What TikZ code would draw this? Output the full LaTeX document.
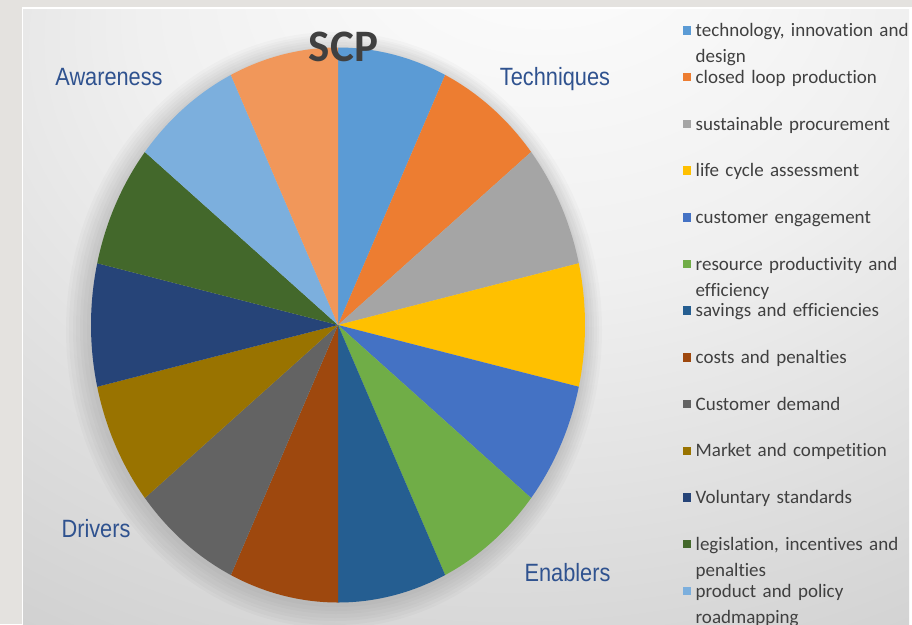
\documentclass[tikz,border=0pt]{standalone}
\usepackage{fontspec}
\setmainfont{Carlito}[Ligatures=CommonOff]
\newfontfamily\catfont[FakeStretch=0.87]{Liberation Sans}
\usepackage{tikz}
\usetikzlibrary{positioning,calc}
\usepackage{xcolor}
\definecolor{scpframe}{RGB}{228,226,223}
\definecolor{scptext}{RGB}{64,64,64}
\definecolor{scpcat}{RGB}{47,82,143}
\definecolor{scpA}{HTML}{5B9BD5}
\definecolor{scpB}{HTML}{ED7D31}
\definecolor{scpC}{HTML}{A5A5A5}
\definecolor{scpD}{HTML}{FFC000}
\definecolor{scpE}{HTML}{4472C4}
\definecolor{scpF}{HTML}{70AD47}
\definecolor{scpG}{HTML}{255E91}
\definecolor{scpH}{HTML}{9E480E}
\definecolor{scpI}{HTML}{636363}
\definecolor{scpJ}{HTML}{997300}
\definecolor{scpK}{HTML}{264478}
\definecolor{scpL}{HTML}{43682B}
\definecolor{scpM}{HTML}{7CAFDD}
\definecolor{scpN}{HTML}{F1975A}
\pgfdeclareradialshading{panelshade}{\pgfpoint{5bp}{35bp}}{color(0bp)=(white); color(22bp)=(black!6); color(55bp)=(black!22); color(75bp)=(black!24)}
\tikzstyle{legkey} = [rectangle, minimum size=8.5pt, inner sep=0pt]
\tikzstyle{legtext} = [anchor=base west, inner sep=0pt, text width=230pt, align=left, font=\fontsize{19}{26}\selectfont, text=scptext]
\tikzstyle{category} = [anchor=base, inner sep=0pt, font=\catfont\fontsize{25}{30}\selectfont, text=scpcat]
\tikzstyle{pieshadow} = [black, opacity=0.018]
% one slice of the squeezed pie: colour, start angle, end angle
\newcommand{\pieslice}[3]{\fill[#1] (ctr) -- ++(#2:247 and 277.5) arc[start angle=#2, end angle=#3, x radius=247, y radius=277.5] -- cycle;}

\begin{document}
\begin{tikzpicture}[x=1pt, y=-1pt, node distance=46.7pt]
\useasboundingbox (0,0) rectangle (912,624);
% Slide background
\fill[scpframe] (0,0) rectangle (912,624);
\fill[white] (21.5,6.5) rectangle (912,624);
\shade[shading=panelshade] (23,9.5) rectangle (909,624);

% Pie (soft shadow first)
\coordinate (ctr) at (338,325);
\fill[pieshadow] ($(ctr)+(-4,5)$) ellipse [x radius=268, y radius=298];
\fill[pieshadow] ($(ctr)+(-4,5)$) ellipse [x radius=265, y radius=295];
\fill[pieshadow] ($(ctr)+(-3,4)$) ellipse [x radius=262, y radius=292];
\fill[pieshadow] ($(ctr)+(-3,4)$) ellipse [x radius=259, y radius=289];
\fill[pieshadow] ($(ctr)+(-2,3)$) ellipse [x radius=256, y radius=286];
\fill[pieshadow] ($(ctr)+(-2,3)$) ellipse [x radius=253, y radius=283];
\fill[pieshadow] ($(ctr)+(-1,2)$) ellipse [x radius=250, y radius=280];
\pieslice{scpA}{-90}{-64.29}
\pieslice{scpB}{-64.29}{-38.57}
\pieslice{scpC}{-38.57}{-12.86}
\pieslice{scpD}{-12.86}{12.86}
\pieslice{scpE}{12.86}{38.57}
\pieslice{scpF}{38.57}{64.29}
\pieslice{scpG}{64.29}{90}
\pieslice{scpH}{90}{115.71}
\pieslice{scpI}{115.71}{141.43}
\pieslice{scpJ}{141.43}{167.14}
\pieslice{scpK}{167.14}{192.86}
\pieslice{scpL}{192.86}{218.57}
\pieslice{scpM}{218.57}{244.29}
\pieslice{scpN}{244.29}{270}

\node (title) [anchor=base, inner sep=0pt, font=\bfseries\fontsize{45}{50}\selectfont, text=scptext] at (343.5,61) {SCP};
\node (aware) [category] at (109,85) {Awareness};
\node (tech) [category] at (555,85) {Techniques};
\node (drive) [category] at (96,537) {Drivers};
\node (enable) [category] at (567.5,581) {Enablers};

% Legend
\node (key1) [legkey, fill=scpA] at (687,30.5) {};
\node (key2) [legkey, fill=scpB, below of=key1] {};
\node (key3) [legkey, fill=scpC, below of=key2] {};
\node (key4) [legkey, fill=scpD, below of=key3] {};
\node (key5) [legkey, fill=scpE, below of=key4] {};
\node (key6) [legkey, fill=scpF, below of=key5] {};
\node (key7) [legkey, fill=scpG, below of=key6] {};
\node (key8) [legkey, fill=scpH, below of=key7] {};
\node (key9) [legkey, fill=scpI, below of=key8] {};
\node (key10) [legkey, fill=scpJ, below of=key9] {};
\node (key11) [legkey, fill=scpK, below of=key10] {};
\node (key12) [legkey, fill=scpL, below of=key11] {};
\node (key13) [legkey, fill=scpM, below of=key12] {};

\node (leg1) [legtext] at ([xshift=4pt, yshift=-1.7pt]key1.south east) {technology, innovation and\\design};
\node (leg2) [legtext] at ([xshift=4pt, yshift=-1.7pt]key2.south east) {closed loop production};
\node (leg3) [legtext] at ([xshift=4pt, yshift=-1.7pt]key3.south east) {sustainable procurement};
\node (leg4) [legtext] at ([xshift=4pt, yshift=-1.7pt]key4.south east) {life cycle assessment};
\node (leg5) [legtext] at ([xshift=4pt, yshift=-1.7pt]key5.south east) {customer engagement};
\node (leg6) [legtext] at ([xshift=4pt, yshift=-1.7pt]key6.south east) {resource productivity and\\efficiency};
\node (leg7) [legtext] at ([xshift=4pt, yshift=-1.7pt]key7.south east) {savings and efficiencies};
\node (leg8) [legtext] at ([xshift=4pt, yshift=-1.7pt]key8.south east) {costs and penalties};
\node (leg9) [legtext] at ([xshift=4pt, yshift=-1.7pt]key9.south east) {Customer demand};
\node (leg10) [legtext] at ([xshift=4pt, yshift=-1.7pt]key10.south east) {Market and competition};
\node (leg11) [legtext] at ([xshift=4pt, yshift=-1.7pt]key11.south east) {Voluntary standards};
\node (leg12) [legtext] at ([xshift=4pt, yshift=-1.7pt]key12.south east) {legislation, incentives and\\penalties};
\node (leg13) [legtext] at ([xshift=4pt, yshift=-1.7pt]key13.south east) {product and policy\\roadmapping};
\end{tikzpicture}
\end{document}
